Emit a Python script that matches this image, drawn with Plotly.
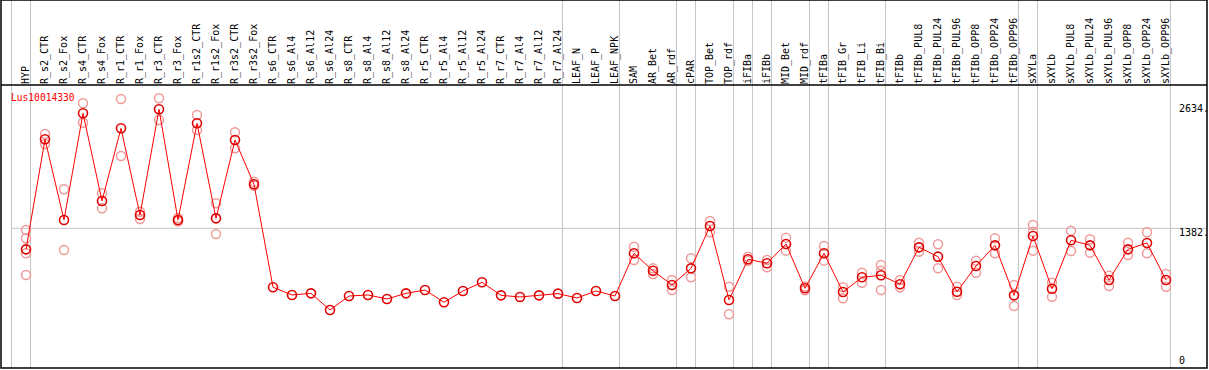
import plotly.graph_objects as go

categories = ["HYP", "R_s2_CTR", "R_s2_Fox", "R_s4_CTR", "R_s4_Fox", "R_r1_CTR", "R_r1_Fox",
              "R_r3_CTR", "R_r3_Fox", "R_r1s2_CTR", "R_r1s2_Fox", "R_r3s2_CTR", "R_r3s2_Fox",
              "R_s6_CTR", "R_s6_Al4", "R_s6_Al12", "R_s6_Al24", "R_s8_CTR", "R_s8_Al4",
              "R_s8_Al12", "R_s8_Al24", "R_r5_CTR", "R_r5_Al4", "R_r5_Al12", "R_r5_Al24",
              "R_r7_CTR", "R_r7_Al4", "R_r7_Al12", "R_r7_Al24", "LEAF_N", "LEAF_P", "LEAF_NPK",
              "SAM", "AR_Bet", "AR_rdf", "cPAR", "TOP_Bet", "TOP_rdf", "iFIBa", "iFIBb",
              "MID_Bet", "MID_rdf", "tFIBa", "tFIB_Gr", "tFIB_Li", "tFIB_Bi", "tFIBb",
              "tFIBb_PUL8", "tFIBb_PUL24", "tFIBb_PUL96", "tFIBb_OPP8", "tFIBb_OPP24",
              "tFIBb_OPP96", "sXYLa", "sXYLb", "sXYLb_PUL8", "sXYLb_PUL24", "sXYLb_PUL96",
              "sXYLb_OPP8", "sXYLb_OPP24", "sXYLb_OPP96"]

mean_values = [1161, 2319, 1470, 2592, 1670, 2434, 1522, 2634, 1470, 2487, 1487, 2311, 1845,
               762, 681, 698, 523, 670, 681, 639, 698, 733, 604, 723, 814, 677, 660, 677, 695,
               649, 723, 670,
               1119, 936, 786, 961, 1407, 628, 1056, 1014, 1217, 751, 1119, 712, 867, 888, 793,
               1182, 1084, 715, 986, 1203, 677, 1301, 747, 1256, 1203, 839, 1161, 1228, 839]

rep_high = [1364, 2374, 1793, 2697, 1750, 2743, 1557, 2750, 1490, 2574, 1645, 2392, 1873,
            None, None, None, None, None, None, None, None, None, None, None, None, None,
            None, None, None, None, None, None,
            1189, 961, 839, 1067, 1459, 768, 1084, 1049, 1284, 770, 1196, 762, 915, 996, 839,
            1231, 1214, 768, 1042, 1277, 786, 1417, 810, 1357, 1267, 884, 1231, 1340, 902]

rep_low = [891, 2269, 1154, 2493, 1593, 2143, 1480, 2522, 1455, 2417, 1322, 2224, 1830,
           None, None, None, None, None, None, None, None, None, None, None, None, None,
           None, None, None, None, None, None,
           1049, 902, 733, 867, 1340, 478, 1040, 972, 1147, 730, 1042, 646, 810, 733, 762,
           1136, 961, 681, 915, 1119, 565, 1147, 663, 1144, 1126, 775, 1101, 1119, 768]

# additional replicates (category, value)
extra_reps = [("HYP", 1277), ("HYP", 1119), ("tFIB_Bi", 936), ("sXYLa", 1347)]

gene_name = "Lus10014330"
ytick_values = [2634, 1382, 0]
ytick_labels = ["2634.", "1382.", "0"]
# separator positions: index of the last category in each group (-1 = before first)
group_ends = [-1, 0, 28, 31, 34, 35, 37, 38, 39, 41, 42, 45, 52, 53, 60]

W, H = 1209, 370
ML, MR, MT, MB = 1, 2, 88, 2
HEADER_LINE = 85
XMIN, XMAX = -1.316, 62.158
YMIN, YMAX = -87.3, 2858

xi = list(range(len(categories)))

rep_x, rep_y = [], []
for i in xi:
    for v in (rep_high[i], rep_low[i]):
        if v is not None:
            rep_x.append(i)
            rep_y.append(v)
for c, v in extra_reps:
    rep_x.append(categories.index(c))
    rep_y.append(v)

fig = go.Figure()
fig.add_trace(go.Scatter(
    x=rep_x, y=rep_y, mode="markers",
    marker=dict(symbol="circle-open", size=9, color="#f09a9a", line=dict(width=1.5, color="#f09a9a")),
    hoverinfo="skip", showlegend=False))
fig.add_trace(go.Scatter(
    x=xi, y=mean_values, mode="lines+markers",
    line=dict(color="#ff0000", width=1),
    marker=dict(symbol="circle-open", size=9, color="#e00000", line=dict(width=1.6, color="#e00000")),
    showlegend=False))

plot_w = W - ML - MR
plot_h = H - MT - MB
top_paper = 1 + MT / plot_h
header_paper = 1 + (MT - HEADER_LINE) / plot_h

shapes = []
gray = "#c4c4c4"
# vertical group separators spanning header and plot
for k in group_ends:
    xp = (k + 0.235 - XMIN) / (XMAX - XMIN)
    shapes.append(dict(type="line", xref="paper", yref="paper", x0=xp, x1=xp,
                       y0=0, y1=top_paper, line=dict(color=gray, width=1), layer="below"))
# horizontal gridline at middle tick
x_start = (group_ends[0] + 0.235 - XMIN) / (XMAX - XMIN)
shapes.append(dict(type="line", xref="paper", yref="y", x0=x_start, x1=1,
                   y0=ytick_values[1], y1=ytick_values[1], line=dict(color=gray, width=1), layer="below"))
# black frame
shapes.append(dict(type="rect", xref="paper", yref="paper", x0=0, x1=1, y0=0, y1=top_paper,
                   line=dict(color="black", width=1.5)))
shapes.append(dict(type="line", xref="paper", yref="paper", x0=0, x1=1, y0=header_paper, y1=header_paper,
                   line=dict(color="black", width=1.5)))

annotations = []
for v, t, dy in zip(ytick_values, ytick_labels, [1, -4, -1]):
    annotations.append(dict(x=(1177 - ML) / plot_w, xref="paper", y=v, yref="y", text=t,
                            showarrow=False, xanchor="left", yanchor="middle", yshift=dy,
                            font=dict(family="DejaVu Sans Mono", size=10, color="black")))
annotations.append(dict(x=(9 - ML) / plot_w, xref="paper", y=1 - (97.5 - MT) / plot_h, yref="paper",
                        text=gene_name, showarrow=False, xanchor="left", yanchor="middle",
                        font=dict(family="DejaVu Sans Mono", size=9.6, color="#ff0000")))

fig.update_layout(
    width=W, height=H,
    margin=dict(l=ML, r=MR, t=MT, b=MB, pad=0),
    paper_bgcolor="white", plot_bgcolor="white",
    shapes=shapes, annotations=annotations,
    xaxis=dict(range=[XMIN, XMAX], side="top", tickmode="array", tickvals=xi, ticktext=categories,
               tickangle=-90, showgrid=False, zeroline=False, showline=False, ticks="",
               ticklabelstandoff=3,
               tickfont=dict(family="DejaVu Sans Mono", size=10, color="black")),
    yaxis=dict(range=[YMIN, YMAX], showgrid=False, zeroline=False, showticklabels=False,
               showline=False, ticks=""),
)

fig.write_html("out.html", config={"displayModeBar": False},
               post_script="document.body.style.margin='0';document.body.style.padding='0';")
